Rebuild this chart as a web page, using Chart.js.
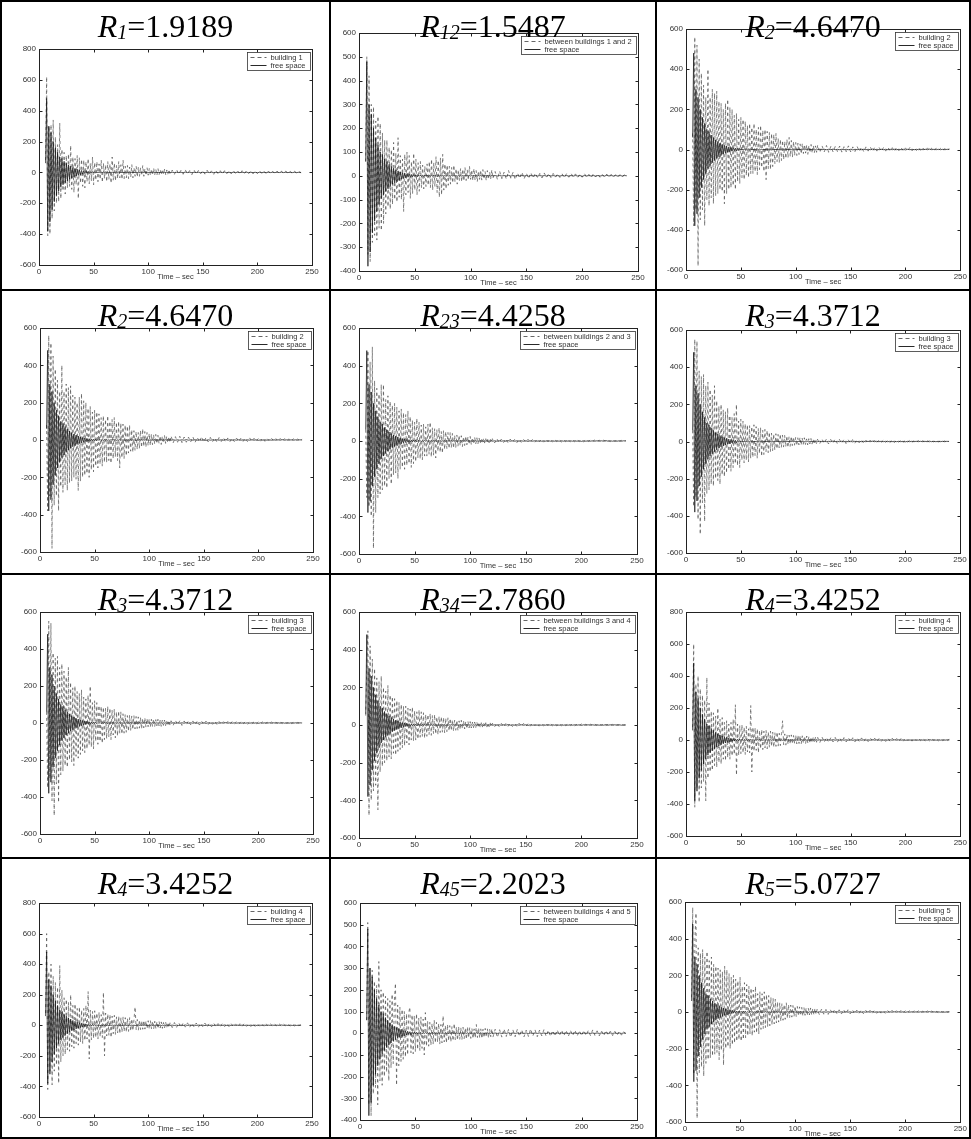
<!DOCTYPE html>
<html>
<head>
<meta charset="utf-8">
<title>Received signals near buildings vs free space</title>
<script src="https://cdn.jsdelivr.net/npm/chart.js@4.4.1/dist/chart.umd.min.js"></script>
<style>
  html, body { margin: 0; padding: 0; background: #fff; }
  #sheet { position: relative; width: 971px; height: 1139px; overflow: hidden; background: #fff; }
  .rule { position: absolute; background: #000; }
  .cell { position: absolute; overflow: hidden; }
  .cell canvas { position: absolute; left: 0; top: 0; }
  .title {
    position: absolute; left: 0; right: 0; top: 8px;
    text-align: center; white-space: nowrap; color: #000;
    font-family: 'Liberation Serif', 'Times New Roman', serif;
    font-size: 32px; line-height: 32px;
  }
  .title i { font-style: italic; }
  .title sub { font-size: 20px; font-style: italic; vertical-align: baseline; position: relative; top: 2px; }
</style>
</head>
<body>
<div id="sheet"></div>
<script>
// sample times (sec): 1 s steps to 120 s, then 2 s steps
const timeSec = [
  6, 7, 8, 9, 10, 11, 12, 13, 14, 15, 16, 17, 18, 19, 20,
  21, 22, 23, 24, 25, 26, 27, 28, 29, 30, 31, 32, 33, 34, 35, 36, 37, 38, 39, 40,
  41, 42, 43, 44, 45, 46, 47, 48, 49, 50, 51, 52, 53, 54, 55, 56, 57, 58, 59, 60,
  61, 62, 63, 64, 65, 66, 67, 68, 69, 70, 71, 72, 73, 74, 75, 76, 77, 78, 79, 80,
  81, 82, 83, 84, 85, 86, 87, 88, 89, 90, 91, 92, 93, 94, 95, 96, 97, 98, 99, 100,
  101, 102, 103, 104, 105, 106, 107, 108, 109, 110, 111, 112, 113, 114, 115, 116, 117, 118, 119, 120,
  122, 124, 126, 128, 130, 132, 134, 136, 138, 140, 142, 144, 146, 148, 150,
  152, 154, 156, 158, 160, 162, 164, 166, 168, 170, 172, 174, 176, 178, 180,
  182, 184, 186, 188, 190, 192, 194, 196, 198, 200, 202, 204, 206, 208, 210,
  212, 214, 216, 218, 220, 222, 224, 226, 228, 230, 232, 234, 236, 238, 240
];

const freeSpace = [
  60, 480, -380, 300, -320, 260, -240, 200, -190, 160, -150, 130, -120, 100, -95,
  90, -80, 72, -66, 60, -55, 48, -45, 40, -36, 32, -30, 26, -24, 21, -19, 17, -15, 13, -12,
  11, -8, 9, -6, 7, -7, 5, -4, 5, -3, 4, -4, 3, -2, 3, -3, 2, -2, 3, -1,
  2, -2, 1, -2, 2, -1, 2, -1, 1, -2, 1, -1, 2, -1, 1, -1, 1, -2, 1, -1,
  1, -1, 2, -1, 1, -1, 1, -2, 1, -1, 2, -1, 1, -1, 1, -1, 2, -1, 1, -1,
  1, -1, 1, -1, 2, -1, 1, -1, 1, -1, 1, -2, 1, -1, 1, -1, 1, -1, 2, -1,
  1, -1, 1, -1, 1, -1, 2, -1, 1, -1, 1, -1, 1, -1, 1, -2, 1, -1, 1, -1, 1, -1, 1, -1, 2, -1, 1, -1, 1, -1,
  1, -1, 1, -1, 1, -1, 1, -1, 1, -2, 1, -1, 1, -1, 1, -1, 1, -1, 1, -1, 2, -1, 1, -1, 1, -1, 1, -1, 1, 0
];

const building1 = [
  80, 620, -410, 300, -400, 310, -300, 340, -250, 230, -200, 180, -190, 320, -170,
  150, -120, 130, -140, 110, -100, 120, -90, 175, -110, 100, -130, 90, -80, 110, -170, 95, -70, 85, -90,
  80, -100, 70, -60, 90, -75, 60, -55, 100, -80, 65, -50, 70, -60, 55, -45, 80, -65, 60, -40,
  50, -60, 70, -45, 55, -70, 100, -50, 60, -55, 45, -40, 70, -35, 50, -45, 80, -40, 40, -35,
  45, -40, 35, -30, 50, -35, 30, -25, 40, -30, 35, -25, 30, -20, 45, -25, 25, -20, 30, -18,
  25, -20, 22, -18, 28, -15, 20, -18, 24, -14, 18, -16, 20, -12, 22, -15, 16, -12, 18, -10,
  15, -12, 18, -10, 14, -12, 16, -9, 12, -14, 15, -10, 13, -9, 12, -11, 14, -8, 10, -12, 13, -9, 11, -10, 12, -8, 10, -9, 11, -7,
  9, -10, 11, -8, 10, -7, 9, -9, 8, -7, 10, -6, 8, -8, 9, -6, 7, -8, 8, -5, 7, -6, 8, -5, 6, -6, 7, -4, 5, -3
];

const between12 = [
  60, 500, -330, 420, -360, 300, -280, 290, -250, 230, -270, 250, -220, 220, -230,
  180, -200, 150, -160, 150, -130, 120, -140, 110, -120, 140, -100, 95, -110, 160, -90, 85, -100, 70, -150,
  90, -80, 100, -70, 85, -95, 60, -75, 95, -60, 70, -80, 55, -65, 60, -50, 45, -55, 40, -45,
  50, -40, 60, -50, 70, -60, 55, -45, 80, -70, 65, -90, 75, -80, 90, -60, 50, -55, 45, -40,
  40, -35, 35, -30, 45, -25, 30, -35, 25, -20, 30, -25, 28, -22, 35, -20, 25, -18, 40, -15,
  25, -20, 30, -18, 22, -25, 20, -15, 24, -18, 26, -14, 18, -20, 22, -15, 16, -12, 25, -10,
  18, -15, 20, -12, 15, -14, 22, -10, 14, -16, 12, -10, 15, -12, 10, -11, 13, -9, 11, -8, 10, -9, 12, -7, 9, -8, 10, -6, 8, -7,
  8, -7, 9, -6, 10, -5, 8, -7, 7, -6, 9, -5, 6, -7, 8, -5, 7, -6, 6, -5, 7, -4, 6, -5, 5, -4, 6, -3, 5, -3
];

const building2 = [
  80, -380, 560, -300, 520, -580, 450, -350, 380, -300, 320, -380, 260, -250, 400,
  -280, 260, -240, 300, -270, 280, -230, 290, -220, 240, -200, 230, -210, 200, -270, 230, -220, 250, -200, 210,
  -190, 200, -180, 170, -200, 180, -160, 150, -170, 160, -140, 150, -150, 140, -130, 120, -140, 130, -120, 110,
  -120, 130, -110, 100, -125, 110, -100, 120, -90, 95, -110, 100, -150, 90, -95, 85, -100, 80, -85, 75,
  -70, 80, -60, 55, -65, 50, -55, 45, -50, 40, -45, 50, -40, 60, -35, 45, -38, 40, -30, 35,
  -30, 32, -25, 28, -22, 30, -20, 25, -18, 22, -24, 20, -16, 25, -18, 20, -15, 18, -14, 22,
  -15, 18, -12, 20, -14, 16, -12, 15, -10, 17, -13, 14, -11, 18, -12, 13, -10, 14, -9, 12, -11, 13, -8, 12, -10, 11, -8, 10, -9, 10,
  -8, 10, -7, 9, -8, 11, -6, 9, -7, 8, -6, 10, -7, 8, -5, 9, -6, 7, -5, 8, -6, 7, -4, 6, -5, 6, -4, 5, -3, 4
];

const between23 = [
  60, -300, 480, -350, 420, -400, 500, -570, 320, -380, 280, -300, 250, -280, 300,
  -260, 300, -240, 220, -250, 240, -200, 210, -230, 190, -180, 200, -170, 180, -200, 160, -150, 170, -140, 150,
  -150, 140, -130, 160, -120, 130, -140, 110, -120, 100, -110, 120, -90, 100, -95, 85, -100, 90, -80, 75,
  -80, 90, -70, 100, -85, 70, -75, 65, -90, 60, -55, 70, -60, 50, -65, 55, -45, 50, -40, 45,
  -40, 45, -35, 40, -38, 30, -35, 32, -28, 30, -25, 28, -30, 22, -24, 26, -20, 22, -18, 24,
  -20, 18, -16, 20, -15, 17, -14, 16, -12, 15, -13, 14, -11, 12, -10, 13, -9, 11, -10, 12,
  -10, 12, -9, 10, -8, 11, -9, 10, -7, 9, -8, 10, -7, 8, -6, 9, -7, 8, -6, 7, -5, 8, -6, 7, -5, 6, -5, 7, -4, 6,
  -5, 6, -4, 7, -5, 5, -4, 6, -3, 5, -4, 5, -3, 4, -3, 5, -2, 4, -3, 4, -2, 3, -3, 4, -2, 3, -2, 3, -1, 2
];

const building3 = [
  60, -350, 550, -300, 540, -420, 380, -500, 350, -330, 360, -430, 300, -280, 320,
  -260, 280, -230, 250, -240, 300, -200, 220, -210, 190, -230, 200, -180, 170, -190, 160, -170, 180, -150, 140,
  -160, 130, -140, 150, -120, 200, -130, 110, -140, 120, -100, 110, -115, 95, -100, 90, -110, 85, -90, 80,
  -85, 90, -75, 80, -90, 70, -65, 75, -80, 60, -70, 65, -55, 60, -60, 50, -55, 45, -50, 40,
  -45, 42, -40, 38, -35, 40, -32, 35, -30, 33, -28, 30, -32, 25, -26, 28, -22, 24, -20, 22,
  -22, 20, -18, 22, -20, 18, -15, 20, -16, 14, -18, 15, -13, 16, -14, 12, -15, 13, -11, 12,
  -12, 14, -10, 12, -13, 11, -9, 12, -10, 11, -9, 10, -11, 9, -8, 10, -9, 8, -7, 9, -8, 8, -6, 7, -7, 8, -6, 7, -5, 6,
  -6, 7, -5, 6, -6, 5, -4, 6, -5, 5, -4, 6, -5, 4, -3, 5, -4, 4, -3, 4, -3, 3, -2, 4, -3, 3, -2, 3, -2, 2
];

const between34 = [
  50, 300, 500, -480, 420, -400, 350, -350, 300, -320, 250, -450, 230, -250, 260,
  -220, 200, -200, 180, -190, 210, -170, 160, -180, 150, -150, 140, -160, 130, -140, 120, -130, 110, -120, 100,
  -110, 100, -95, 90, -105, 85, -80, 95, -85, 75, -80, 70, -75, 80, -65, 70, -60, 65, -70, 55,
  -60, 55, -50, 60, -55, 50, -45, 55, -48, 42, -50, 45, -40, 44, -38, 40, -42, 36, -35, 38,
  -32, 35, -30, 28, -33, 26, -28, 25, -30, 22, -24, 25, -20, 22, -21, 18, -20, 19, -16, 18,
  -16, 15, -14, 16, -13, 15, -12, 14, -13, 12, -11, 13, -10, 12, -11, 10, -9, 11, -10, 9,
  -9, 10, -8, 9, -10, 8, -7, 9, -8, 7, -8, 9, -6, 8, -7, 7, -6, 8, -5, 7, -6, 6, -5, 7, -5, 6, -4, 5, -5, 5,
  -4, 5, -4, 6, -3, 5, -4, 4, -3, 5, -3, 4, -4, 4, -2, 4, -3, 3, -2, 4, -3, 3, -2, 3, -2, 2, -1, 2, -2, 1
];

const building4 = [
  80, 600, -420, 350, -300, 400, -390, 320, -300, 280, -260, 250, -380, 390, -240,
  230, -200, 180, -190, 170, -160, 150, -170, 200, -140, 130, -150, 140, -120, 110, -130, 120, -110, 100, -120,
  110, -100, 130, -90, 220, -220, 100, -95, 90, -85, 95, -80, 80, -90, 85, -75, 70, -80, 215, -200,
  80, -70, 75, -65, 70, -80, 60, -55, 65, -60, 55, -50, 60, -55, 50, -45, 55, -40, 50, -45,
  45, -40, 50, -38, 42, -35, 40, 120, -30, 38, -32, 35, -28, 30, -26, 32, -25, 28, -22, 30,
  -25, 30, -22, 28, -24, 26, -20, 24, -22, 25, -18, 22, -20, 18, -16, 20, -15, 18, -14, 16,
  -15, 18, -13, 16, -14, 15, -12, 16, -13, 14, -11, 15, -12, 13, -10, 14, -11, 12, -10, 13, -9, 11, -10, 12, -8, 11, -9, 10, -8, 9,
  -9, 10, -8, 11, -7, 9, -8, 10, -7, 9, -6, 8, -7, 9, -6, 8, -5, 7, -6, 8, -5, 7, -4, 6, -5, 6, -4, 5, -3, 4
];

const between45 = [
  60, 510, -330, 300, -380, 290, -280, 240, -250, 220, -330, 330, -220, 200, -240,
  190, -200, 170, -180, 160, -220, 150, -160, 180, -140, 150, 230, -240, 130, -150, 120, -130, 110, -120, 100,
  -110, 90, -100, 95, 120, -90, 85, -95, 80, -85, 90, -75, 70, -80, 75, -70, 65, -100, 95, -60,
  55, -60, 50, -55, 45, -50, 60, -45, 50, -40, 45, -50, 40, -45, 80, -40, 35, -45, 40, -35,
  35, -40, 30, -35, 45, -30, 28, -32, 30, -28, 25, -30, 28, -26, 24, -28, 30, -22, 26, -24,
  22, -25, 20, -22, 40, -20, 24, -22, 20, -25, 18, -20, 22, -18, 20, -22, 18, -16, 20, -18,
  18, -20, 16, -18, 20, -15, 17, -19, 15, -16, 18, -14, 16, -17, 14, -15, 20, -13, 15, -16, 14, -12, 16, -14, 13, -15, 12, -14, 15, -11,
  14, -12, 13, -15, 12, -11, 14, -13, 11, -12, 13, -10, 12, -11, 15, -10, 11, -12, 10, -11, 12, -9, 10, -11, 9, -10, 8, -9, 7, -6
];

const building5 = [
  80, 570, -340, 400, 540, -580, 350, -330, 320, -300, 340, -350, 300, -280, 330,
  -260, 280, -250, 300, -240, 260, -230, 250, -220, 240, -260, 230, -210, 220, -290, 250, -200, 230, -190, 210,
  -200, 190, -180, 200, -170, 180, -160, 170, -150, 190, -160, 140, -150, 160, -140, 150, -130, 140, -120, 130,
  -130, 120, -110, 140, -115, 100, -120, 110, -95, 100, -90, 110, -85, 95, -80, 90, -75, 80, -70, 75,
  -65, 70, -60, 55, -55, 50, -50, 45, -45, 40, -40, 50, -35, 40, -30, 38, -28, 35, -25, 32,
  -25, 30, -22, 28, -20, 25, -22, 24, -18, 22, -20, 20, -16, 22, -15, 18, -14, 20, -12, 16,
  -14, 16, -12, 14, -13, 12, -11, 15, -10, 12, -11, 13, -9, 12, -10, 11, -9, 10, -8, 11, -9, 10, -7, 9, -8, 9, -7, 8, -6, 7,
  -7, 8, -6, 9, -5, 7, -6, 8, -5, 7, -4, 6, -5, 7, -4, 6, -4, 5, -3, 6, -4, 5, -3, 4, -3, 4, -2, 3, -2, 2
];

// panel order: left to right, top to bottom
const titleSubs   = ['1', '12', '2', '2', '23', '3', '3', '34', '4', '4', '45', '5'];
const titleValues = ['1.9189', '1.5487', '4.6470', '4.6470', '4.4258', '4.3712',
                     '4.3712', '2.7860', '3.4252', '3.4252', '2.2023', '5.0727'];
const seriesLabels = ['building 1', 'between buildings 1 and 2', 'building 2',
                      'building 2', 'between buildings 2 and 3', 'building 3',
                      'building 3', 'between buildings 3 and 4', 'building 4',
                      'building 4', 'between buildings 4 and 5', 'building 5'];
const seriesData = [building1, between12, building2, building2, between23, building3,
                    building3, between34, building4, building4, between45, building5];
const yLimits = [[-600, 800, 200], [-400, 600, 100], [-600, 600, 200],
                 [-600, 600, 200], [-600, 600, 200], [-600, 600, 200],
                 [-600, 600, 200], [-600, 600, 200], [-600, 800, 200],
                 [-600, 800, 200], [-400, 600, 100], [-600, 600, 200]];

// page geometry
const colLeft = [2, 331, 657], colRight = [329, 655, 969];
const rowTop = [2, 291, 575, 859], rowBottom = [289, 573, 857, 1137];
const vRules = [0, 329, 655, 969];
const hRules = [0, 289, 573, 857, 1137];
// plot frame [left, top, right, bottom] in page pixels
const plotBoxes = [
  [39, 49, 312, 265], [359, 33, 638, 271], [686, 29, 961, 270],
  [40, 328, 313, 552], [359, 328, 637, 554], [686, 330, 960, 553],
  [40, 612, 313, 834], [359, 612, 637, 838], [686, 612, 961, 836],
  [39, 903, 312, 1117], [360, 903, 637, 1120], [685, 902, 962, 1122]
];
const Y_AXIS_W = 30, X_AXIS_H = 14;

const sheet = document.getElementById('sheet');
vRules.forEach(x => {
  const d = document.createElement('div');
  d.className = 'rule';
  Object.assign(d.style, { left: x + 'px', top: '0px', width: '2px', height: '1139px' });
  sheet.appendChild(d);
});
hRules.forEach(y => {
  const d = document.createElement('div');
  d.className = 'rule';
  Object.assign(d.style, { left: '0px', top: y + 'px', width: '971px', height: '2px' });
  sheet.appendChild(d);
});

function toPoints(values) {
  return values.map((v, i) => ({ x: timeSec[i], y: v }));
}

// frame with inward ticks, x-axis caption and boxed legend
const framePlugin = {
  id: 'frameAndLegend',
  afterDraw(chart) {
    const { ctx, chartArea: a } = chart;
    const xs = chart.scales.x, ys = chart.scales.y;
    const L = Math.round(a.left) + 0.5, R = Math.round(a.right) + 0.5;
    const T = Math.round(a.top) + 0.5, B = Math.round(a.bottom) + 0.5;
    ctx.save();
    ctx.strokeStyle = '#222';
    ctx.lineWidth = 1;
    ctx.setLineDash([]);
    ctx.strokeRect(L, T, R - L, B - T);
    ctx.beginPath();
    xs.ticks.forEach(t => {
      const px = Math.round(xs.getPixelForValue(t.value)) + 0.5;
      ctx.moveTo(px, B); ctx.lineTo(px, B - 3);
      ctx.moveTo(px, T); ctx.lineTo(px, T + 3);
    });
    ys.ticks.forEach(t => {
      const py = Math.round(ys.getPixelForValue(t.value)) + 0.5;
      ctx.moveTo(L, py); ctx.lineTo(L + 3, py);
      ctx.moveTo(R, py); ctx.lineTo(R - 3, py);
    });
    ctx.stroke();

    ctx.fillStyle = '#333';
    ctx.font = '7.5px "Liberation Sans", Arial, sans-serif';
    ctx.textAlign = 'center';
    ctx.textBaseline = 'middle';
    ctx.fillText('Time – sec', (a.left + a.right) / 2, a.bottom + 12);

    // legend box in the upper right corner
    const ds = chart.data.datasets;
    const tw = Math.max(ctx.measureText(ds[0].label).width, ctx.measureText(ds[1].label).width);
    const w = Math.round(23 + tw + 5), h = 18;
    const lx = Math.round(a.right) - 2 - w + 0.5, ly = Math.round(a.top) + 3 + 0.5;
    ctx.fillStyle = '#fff';
    ctx.fillRect(lx, ly, w, h);
    ctx.strokeStyle = '#333';
    ctx.lineWidth = 0.8;
    ctx.strokeRect(lx, ly, w, h);
    ctx.lineWidth = 0.9;
    ctx.strokeStyle = ds[0].borderColor;
    ctx.setLineDash([4, 3]);
    ctx.beginPath(); ctx.moveTo(lx + 3, ly + 5); ctx.lineTo(lx + 19, ly + 5); ctx.stroke();
    ctx.setLineDash([]);
    ctx.strokeStyle = ds[1].borderColor;
    ctx.beginPath(); ctx.moveTo(lx + 3, ly + 13); ctx.lineTo(lx + 19, ly + 13); ctx.stroke();
    ctx.fillStyle = '#333';
    ctx.textAlign = 'left';
    ctx.fillText(ds[0].label, lx + 23, ly + 5);
    ctx.fillText(ds[1].label, lx + 23, ly + 13);
    ctx.restore();
  }
};

const tickFont = { family: '"Liberation Sans", Arial, sans-serif', size: 8 };

plotBoxes.forEach((box, i) => {
  const col = i % 3, row = Math.floor(i / 3);
  const cx = colLeft[col], cy = rowTop[row];
  const cw = colRight[col] - cx, ch = rowBottom[row] - cy;

  const cell = document.createElement('div');
  cell.className = 'cell';
  Object.assign(cell.style, { left: cx + 'px', top: cy + 'px', width: cw + 'px', height: ch + 'px' });
  const canvas = document.createElement('canvas');
  canvas.width = cw; canvas.height = ch;
  canvas.style.width = cw + 'px'; canvas.style.height = ch + 'px';
  cell.appendChild(canvas);
  const title = document.createElement('div');
  title.className = 'title';
  title.innerHTML = '<i>R</i><sub>' + titleSubs[i] + '</sub>=' + titleValues[i];
  cell.appendChild(title);
  sheet.appendChild(cell);

  const [yMin, yMax, yStep] = yLimits[i];
  new Chart(canvas, {
    type: 'line',
    data: {
      datasets: [{
        label: seriesLabels[i],
        data: toPoints(seriesData[i]),
        borderColor: '#555',
        borderWidth: 0.75,
        borderDash: [3, 3],
        pointRadius: 0,
        tension: 0,
        order: 2
      }, {
        label: 'free space',
        data: toPoints(freeSpace),
        borderColor: '#111',
        borderWidth: 0.7,
        pointRadius: 0,
        tension: 0,
        order: 1
      }]
    },
    options: {
      responsive: false,
      animation: false,
      events: [],
      layout: {
        padding: {
          left: box[0] - cx - Y_AXIS_W,
          top: box[1] - cy,
          right: cx + cw - box[2],
          bottom: cy + ch - box[3] - X_AXIS_H
        }
      },
      plugins: { legend: { display: false }, tooltip: { enabled: false } },
      scales: {
        x: {
          type: 'linear', min: 0, max: 250,
          afterFit: s => { s.height = X_AXIS_H; },
          grid: { display: false, drawTicks: false },
          border: { display: false },
          ticks: { stepSize: 50, padding: 2, maxRotation: 0, autoSkip: false, color: '#333', font: tickFont }
        },
        y: {
          type: 'linear', min: yMin, max: yMax,
          afterFit: s => { s.width = Y_AXIS_W; },
          grid: { display: false, drawTicks: false },
          border: { display: false },
          ticks: { stepSize: yStep, padding: 3, autoSkip: false, color: '#333', font: tickFont }
        }
      }
    },
    plugins: [framePlugin]
  });
});
</script>
</body>
</html>
